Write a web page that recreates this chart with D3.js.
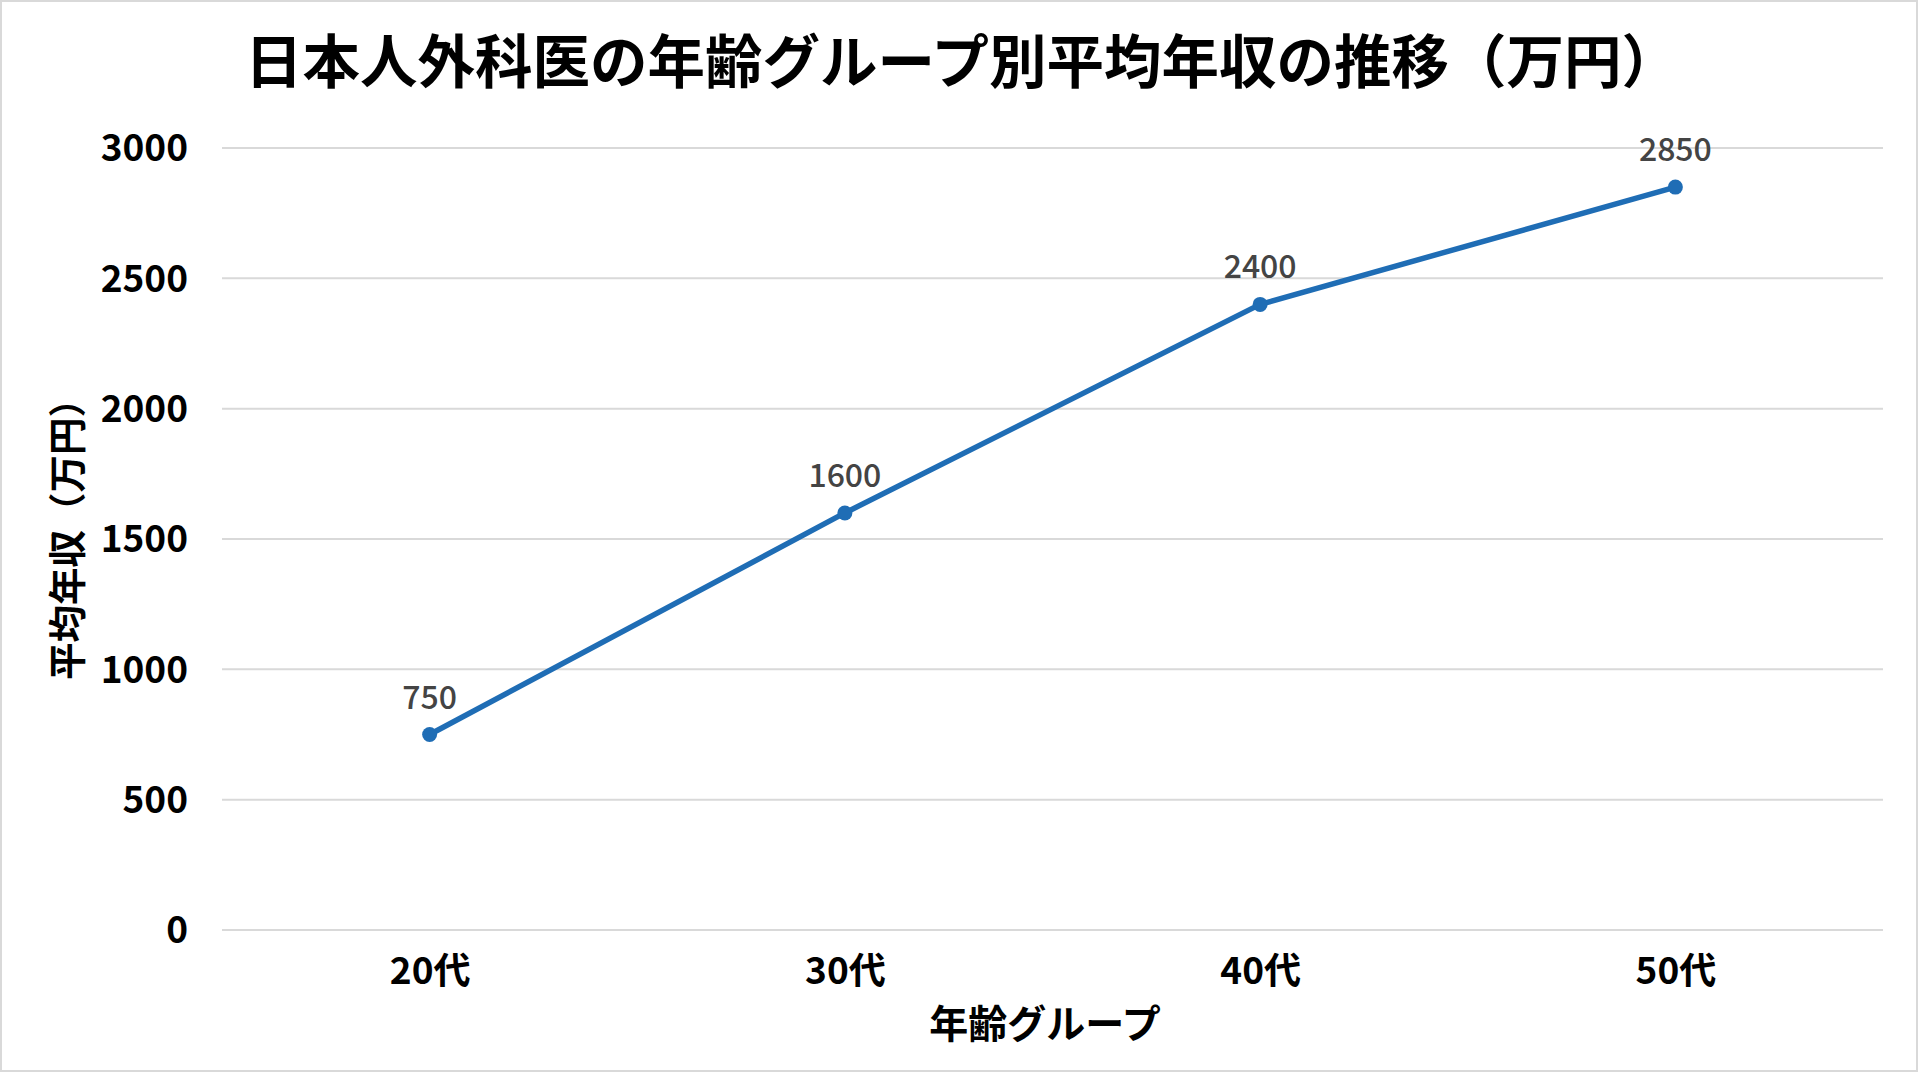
<!DOCTYPE html>
<html>
<head>
<meta charset="utf-8">
<script src="https://cdn.jsdelivr.net/npm/d3@7"></script>
<style>
  html, body { margin: 0; padding: 0; background: #fff; }
  svg { display: block; }
  text { font-family: "Noto Sans CJK JP", "Noto Sans", sans-serif; }
</style>
</head>
<body>
<svg id="chart" width="1920" height="1072"></svg>
<script>
const title = "日本人外科医の年齢グループ別平均年収の推移（万円）";
const xTitle = "年齢グループ";
const yTitle = "平均年収（万円）";
const categories = ["20代", "30代", "40代", "50代"];
const values = [750, 1600, 2400, 2850];
const yTicks = [0, 500, 1000, 1500, 2000, 2500, 3000];

const svg = d3.select("#chart");
const W = 1920, H = 1072;
const m = { left: 222, right: 1883, top: 148, bottom: 930 };

// frame
svg.append("rect").attr("x", 1).attr("y", 1).attr("width", W - 4).attr("height", H - 2)
  .attr("fill", "#fff").attr("stroke", "#d9d9d9").attr("stroke-width", 2);

const x = d3.scalePoint().domain(categories).range([m.left, m.right]).padding(0.5);
const y = d3.scaleLinear().domain([0, 3000]).range([m.bottom, m.top]);

// gridlines
svg.append("g").selectAll("line").data(yTicks).join("line")
  .attr("x1", m.left).attr("x2", m.right)
  .attr("y1", d => y(d)).attr("y2", d => y(d))
  .attr("stroke", "#d9d9d9").attr("stroke-width", 2);

// y axis labels
const yAxis = svg.append("g").attr("transform", `translate(${m.left},0)`)
  .call(d3.axisLeft(y).tickValues(yTicks).tickSize(0).tickPadding(34).tickFormat(d3.format("d")));
yAxis.select(".domain").remove();
yAxis.selectAll("text").attr("font-size", 37).attr("font-weight", "bold").attr("fill", "#000")
  .attr("font-family", "'Noto Sans CJK JP', sans-serif").attr("dy", "0.35em");

// x axis labels
const xAxis = svg.append("g").attr("transform", `translate(0,${m.bottom})`)
  .call(d3.axisBottom(x).tickSize(0).tickPadding(28));
xAxis.select(".domain").remove();
xAxis.selectAll("text").attr("font-size", 37).attr("font-weight", "bold").attr("fill", "#000")
  .attr("font-family", "'Noto Sans CJK JP', sans-serif");

// line
const line = d3.line().x((d, i) => x(categories[i])).y(d => y(d));
svg.append("path").datum(values).attr("d", line)
  .attr("fill", "none").attr("stroke", "#1f6db5").attr("stroke-width", 5.5)
  .attr("stroke-linejoin", "round");

svg.append("g").selectAll("circle").data(values).join("circle")
  .attr("cx", (d, i) => x(categories[i])).attr("cy", d => y(d)).attr("r", 7.5)
  .attr("fill", "#1f6db5");

// data labels
svg.append("g").selectAll("text").data(values).join("text")
  .attr("x", (d, i) => x(categories[i])).attr("y", d => y(d) - 26)
  .attr("text-anchor", "middle").attr("font-size", 32).attr("font-weight", 500)
  .attr("fill", "#444").text(d => d);

// title
svg.append("text").attr("x", 962).attr("y", 62).attr("dy", "0.36em")
  .attr("text-anchor", "middle").attr("font-size", 57.5).attr("font-weight", "bold")
  .attr("fill", "#000").text(title);

// x title
svg.append("text").attr("x", 1045).attr("y", 1024).attr("dy", "0.36em")
  .attr("text-anchor", "middle").attr("font-size", 39).attr("font-weight", "bold")
  .attr("fill", "#000").text(xTitle);

// y title
svg.append("text").attr("transform", "translate(67,530) rotate(-90)").attr("dy", "0.36em")
  .attr("text-anchor", "middle").attr("font-size", 37.5).attr("font-weight", "bold")
  .attr("fill", "#000").text(yTitle);
</script>
</body>
</html>
